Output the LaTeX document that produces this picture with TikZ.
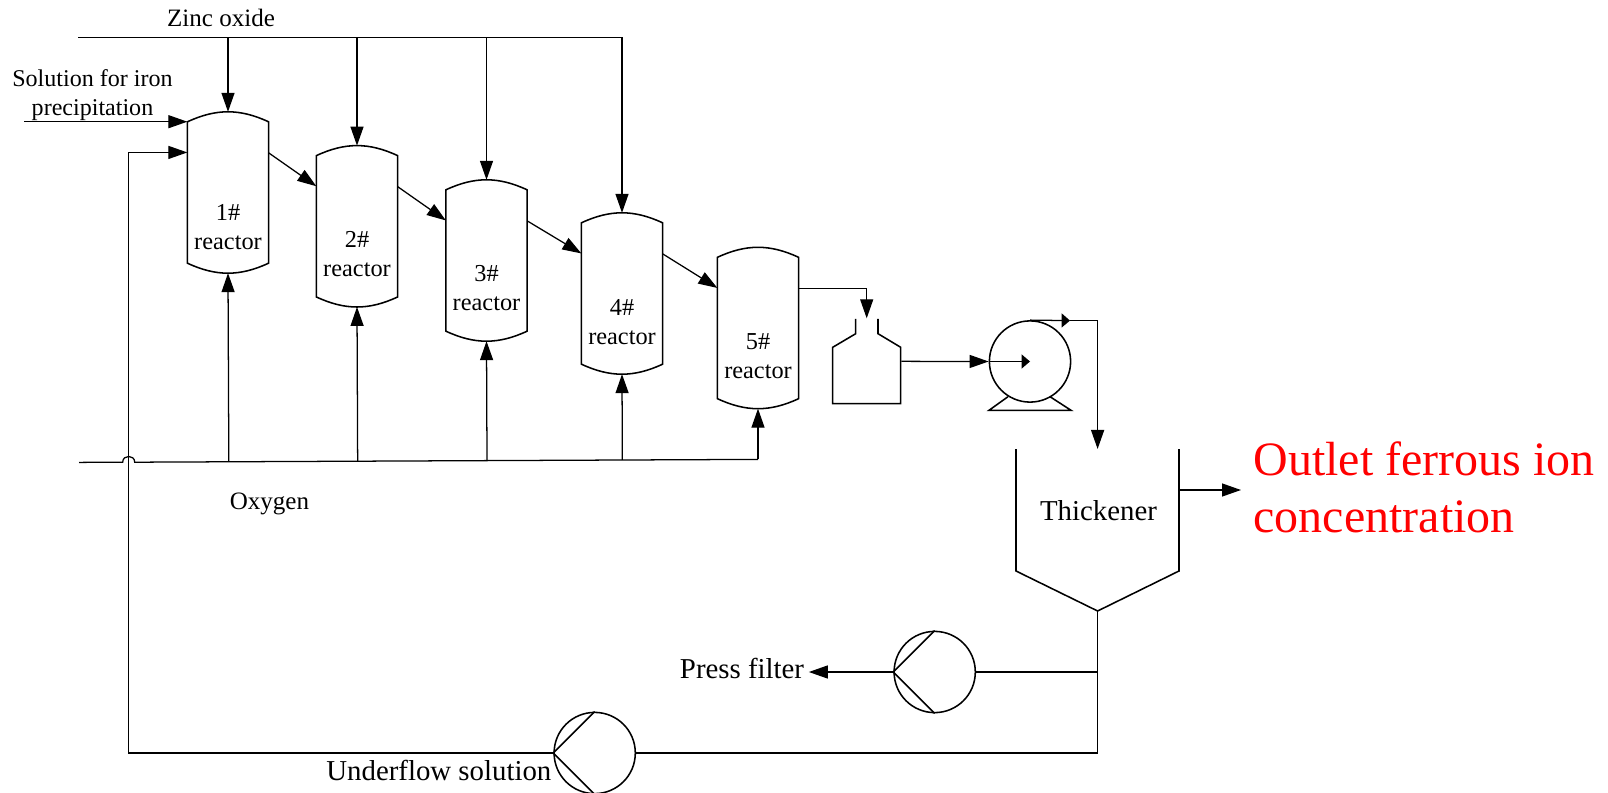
\documentclass[tikz,border=0pt]{standalone}
\usepackage{fontspec}
\setmainfont{Liberation Serif}
\usetikzlibrary{arrows.meta,calc,positioning}

\begin{document}
\begin{tikzpicture}[x=0.025cm, y=-0.025cm, line width=0.9pt, >={Triangle[length=4.75mm,width=3.25mm]},
  lbl/.style={inner sep=0pt, align=center, font=\fontsize{17.8}{20.4}\selectfont},
  biglbl/.style={lbl, font=\fontsize{20.5}{24}\selectfont},
  vessel/.style={line width=1.1pt, line join=miter},
  reactor/.style={inner sep=0pt, minimum width=2cm, minimum height=4cm},
  pump/.style={draw, vessel, circle, inner sep=0pt, minimum size=2.03cm},
  smallhead/.style={-{Triangle[length=2.1mm,width=3.5mm]}}]
\useasboundingbox (0,0) rectangle (1608,793);
\foreach \i/\x/\y/\t in {1/228/192.5/227, 2/357/226.3/254, 3/486.5/260.5/288, 4/622/293.5/322, 5/758/328/356}{
  \node[reactor] (R\i) at (\x,\y) {};
  \node[lbl, font=\fontsize{17.3}{20.4}\selectfont] (L\i) at (\x,\t) {\i\#\\reactor};
  \coordinate (Rin\i) at ($(R\i.north west)+(0,40.6)$);
  \coordinate (Rout\i) at ($(R\i.north east)+(0,41)$);
  \draw[vessel] ($(R\i.north west)+(0,10)$) to[bend left=25] ($(R\i.north east)+(0,10)$)
    -- ($(R\i.south east)+(0,-10)$) to[bend left=25] ($(R\i.south west)+(0,-10)$) -- cycle;
}
\foreach \a/\b in {1/2, 2/3, 3/4, 4/5}
  \draw[->] (Rout\a) -- (Rin\b);

\coordinate (ZNa) at (78,37.3);
\coordinate (ZNb) at (622,37.3);
\node[lbl, anchor=base] (zinc) at (221,27) {Zinc oxide};
\draw (ZNa) -- (ZNb);
\foreach \i in {1,...,4}
  \draw[->] (R\i.north |- ZNa) -- (R\i.north);

\node[lbl, anchor=center, font=\fontsize{17.1}{20.6}\selectfont] (sol) at (92.5,95) {Solution for iron\\precipitation};
\coordinate (SOLa) at (24,121.7);
\draw[->] (SOLa) -- (SOLa -| R1.west);

\coordinate (OXa) at (79,462.4);
\coordinate (OXb) at (758,459.4);
\coordinate (HOPa) at (122.7,462.2);
\coordinate (HOPb) at (134.7,462.2);
\node[lbl, anchor=base] (oxy) at (269.5,509) {Oxygen};
\draw (OXa) -- (HOPa) .. controls (122.7,454.5) and (134.7,454.5) .. (HOPb) -- (OXb);
\draw[->] (OXb) -- (R5.south);
\foreach \i in {1,...,4}
  \draw[->] ($(OXa)!(R\i.south)!(OXb)$) -- (R\i.south);

\node[inner sep=0pt, minimum width=1.7cm, minimum height=2.12cm] (H) at (866.7,361.35) {};
\draw[vessel] (855.7,319) -- (855.7,333.7) -- (832.7,347.3) -- (832.7,403.7) -- (900.7,403.7) -- (900.7,347.3) -- (878,333.7) -- (878,319);
\draw[->] (Rout5) -| (H.north);

\node[pump] (M) at (1030,361.5) {};
\draw[vessel] (1008,396.7) -- (989,410.3) -- (1071,410.3) -- (1050,396.7);
\coordinate (Mout) at (1070,320.6);
\draw[->] (H.east) -- (M.west);
\draw[smallhead] (M.west) -- (M.center);
\draw[smallhead] (M.north) -- (Mout);

\coordinate (TKtop) at (1097.6,449);
\coordinate (TKapex) at (1097.6,611);
\coordinate (TKout) at (1241,490);
\node[biglbl, anchor=base] (thick) at (1098.5,520.5) {Thickener};
\draw[->] (Mout) -| (TKtop);
\draw[vessel] (1016,449) -- (1016,571) -- (TKapex) -- (1179,571) -- (1179,449);
\draw[->] (TKout -| 1179,0) -- (TKout);
\node[inner sep=0pt, anchor=west, align=left, text=red, font=\fontsize{34.1}{41}\selectfont] (outlet) at (1253,487.5) {Outlet ferrous ion\\concentration};

\node[pump] (P1) at (934.7,672) {};
\node[pump] (P2) at (594.7,753) {};
\foreach \p in {P1,P2}{
  \draw[vessel] (\p.north) -- (\p.west) -- (\p.south);
}
\coordinate (UFturn) at (128.7,753);
\coordinate (PFin) at (808.8,672);
\node[biglbl, anchor=base east] (press) at (804.7,678.7) {Press filter};
\node[biglbl, anchor=base east] (under) at (552,780) {Underflow solution};
\draw (TKapex) -- (TKapex |- UFturn) -- (P2.east);
\draw (TKapex |- P1.east) -- (P1.east);
\draw[->] (P1.west) -- (PFin);
\draw[->] (P2.west) -- (UFturn) |- (Rin1);
\end{tikzpicture}
\end{document}
